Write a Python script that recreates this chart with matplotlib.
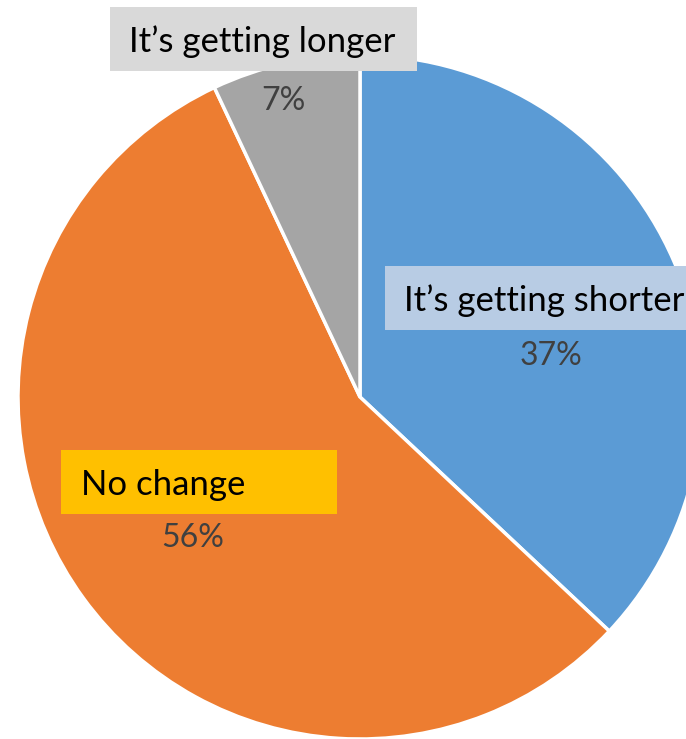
import matplotlib.pyplot as plt
from matplotlib.patches import Rectangle

# answers and share of each
labels = ["It\u2019s getting shorter", "No change", "It\u2019s getting longer"]
shares = [37, 56, 7]
colors = ["#5B9BD5", "#ED7D31", "#A5A5A5"]

W, H = 686, 739

fig = plt.figure(figsize=(W / 100, H / 100), dpi=100)
ax = fig.add_axes([0, 0, 1, 1])

cx, cy, r = 360, H - 397, 342
wedges, _ = ax.pie(shares, colors=colors, startangle=90, counterclock=False,
                   center=(cx, cy), radius=r, frame=True,
                   wedgeprops=dict(edgecolor="white", linewidth=2.5))
ax.set_xlim(0, W)
ax.set_ylim(0, H)
ax.set_aspect("equal")
ax.axis("off")

font = "Lato"

def label_box(x0, y0, x1, y1, fc, text, tx, ha):
    # y given top-down in pixel rows
    ax.add_patch(Rectangle((x0, H - y1), x1 - x0, y1 - y0, facecolor=fc,
                           edgecolor="none", zorder=3))
    ax.text(tx, H - (y0 + y1) / 2 - 3, text, ha=ha, va="center", fontsize=25,
            family=font, color="black", zorder=4)

label_box(110, 7, 417, 71, "#D9D9D9", labels[2], 262, "center")
label_box(385, 266, 700, 330, "#B8CCE4", labels[0], 404, "left")
label_box(61, 450, 337, 514, "#FFC000", labels[1], 81, "left")

pct_pos = [(551, 356), (193, 538), (283, 101)]
for v, (px, py) in zip(shares, pct_pos):
    ax.text(px, H - py, f"{v}%", ha="center", va="center", fontsize=23,
            family=font, color="#404040", zorder=4)

fig.savefig("out.png", dpi=100)
